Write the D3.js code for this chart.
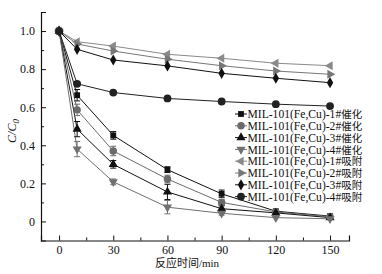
<!DOCTYPE html>
<html>
<head>
<meta charset="utf-8">
<script src="https://cdn.jsdelivr.net/npm/d3@7"></script>
<style>
  body { margin: 0; background: #fff; }
  text { font-family: "Liberation Serif", "Noto Sans CJK SC", serif; }
</style>
</head>
<body>
<div id="chart"></div>
<script>
// times (min)
var times = [0, 10, 30, 60, 90, 120, 150];
var xTicks = [0, 30, 60, 90, 120, 150];
var yTicks = [0, 0.2, 0.4, 0.6, 0.8, 1.0];

var names = [
  "MIL-101(Fe,Cu)-1#催化", "MIL-101(Fe,Cu)-2#催化", "MIL-101(Fe,Cu)-3#催化", "MIL-101(Fe,Cu)-4#催化",
  "MIL-101(Fe,Cu)-1#吸附", "MIL-101(Fe,Cu)-2#吸附", "MIL-101(Fe,Cu)-3#吸附", "MIL-101(Fe,Cu)-4#吸附"
];

var cat1 = [1.0, 0.663, 0.452, 0.272, 0.145, 0.054, 0.028];
var cat2 = [1.0, 0.586, 0.370, 0.223, 0.100, 0.050, 0.025];
var cat3 = [1.0, 0.485, 0.300, 0.155, 0.067, 0.045, 0.020];
var cat4 = [1.0, 0.380, 0.208, 0.075, 0.043, 0.020, 0.014];
var ads1 = [1.0, 0.944, 0.921, 0.878, 0.857, 0.831, 0.818];
var ads2 = [1.0, 0.932, 0.895, 0.852, 0.818, 0.790, 0.773];
var ads3 = [1.0, 0.904, 0.848, 0.817, 0.778, 0.752, 0.729];
var ads4 = [1.0, 0.723, 0.677, 0.646, 0.630, 0.616, 0.606];

var err1 = [0, 0.03, 0.02, 0.015, 0.02, 0, 0];
var err2 = [0, 0.03, 0.025, 0.02, 0.015, 0, 0];
var err3 = [0, 0.04, 0.02, 0.04, 0.015, 0, 0];
var err4 = [0, 0.04, 0.015, 0.035, 0.01, 0, 0];
var noErr = [0, 0, 0, 0, 0, 0, 0];

var series = [
  {name: names[0], values: cat1, err: err1, sym: d3.symbolSquare, color: "#111", size: 34, rot: 0},
  {name: names[1], values: cat2, err: err2, sym: d3.symbolCircle, color: "#6b6b6b", size: 44, rot: 0},
  {name: names[2], values: cat3, err: err3, sym: d3.symbolTriangle, color: "#111", size: 36, rot: 0},
  {name: names[3], values: cat4, err: err4, sym: d3.symbolTriangle, color: "#707070", size: 36, rot: 180},
  {name: names[4], values: ads1, err: noErr, sym: d3.symbolTriangle, color: "#8a8a8a", size: 36, rot: -90},
  {name: names[5], values: ads2, err: noErr, sym: d3.symbolTriangle, color: "#777", size: 36, rot: 90},
  {name: names[6], values: ads3, err: noErr, sym: d3.symbolDiamond, color: "#111", size: 36, rot: 0},
  {name: names[7], values: ads4, err: noErr, sym: d3.symbolCircle, color: "#222", size: 48, rot: 0}
];

var W = 382, H = 274;
var svg = d3.select("#chart").append("svg").attr("width", W).attr("height", H);

var x = d3.scaleLinear().domain([-10, 160.5]).range([41, 349]);
var y = d3.scaleLinear().domain([-0.1, 1.1]).range([240.5, 12]);

// axes, ticks inward
var xAxis = svg.append("g").attr("transform", "translate(0," + y(-0.1) + ")")
  .call(d3.axisBottom(x).tickValues(xTicks).tickSize(-5).tickPadding(4.5).tickFormat(d3.format("d")));
var xMinor = svg.append("g").attr("transform", "translate(0," + y(-0.1) + ")")
  .call(d3.axisBottom(x).tickValues([15, 45, 75, 105, 135]).tickSize(-3).tickFormat(""));
var yAxis = svg.append("g").attr("transform", "translate(" + x(-10) + ",0)")
  .call(d3.axisLeft(y).tickValues(yTicks).tickSize(-5).tickPadding(6)
    .tickFormat(function(d) { return d === 0 ? "0" : d3.format(".1f")(d); }));
var yMinor = svg.append("g").attr("transform", "translate(" + x(-10) + ",0)")
  .call(d3.axisLeft(y).tickValues([0.1, 0.3, 0.5, 0.7, 0.9]).tickSize(-3).tickFormat(""));

[xAxis, xMinor, yAxis, yMinor].forEach(function(g) {
  g.select(".domain").attr("stroke", "#111").attr("stroke-width", 1.2);
  g.selectAll(".tick line").attr("stroke", "#111").attr("stroke-width", 1);
  g.selectAll("text").attr("font-size", 12).attr("fill", "#111")
    .style("font-family", "'Liberation Serif', serif");
});
xMinor.select(".domain").remove();
yMinor.select(".domain").remove();

// axis titles
svg.append("text").attr("x", 187).attr("y", 267).attr("text-anchor", "middle")
  .attr("font-size", 11).attr("fill", "#111").text("反应时间/min");

var yl = svg.append("text").attr("transform", "translate(16,131) rotate(-90)")
  .attr("text-anchor", "middle").attr("font-size", 12).attr("fill", "#111")
  .style("font-style", "italic");
yl.append("tspan").text("C/C");
yl.append("tspan").attr("font-size", 9).attr("dy", 3).text("0");

var line = d3.line().x(function(d, i) { return x(times[i]); }).y(function(d) { return y(d); });

// lines
series.forEach(function(s) {
  svg.append("path").datum(s.values).attr("d", line)
    .attr("fill", "none").attr("stroke", s.color).attr("stroke-width", 1);
});

// error bars
series.forEach(function(s) {
  s.values.forEach(function(v, i) {
    var e = s.err[i];
    if (!e) return;
    var cx = x(times[i]);
    var g = svg.append("g").attr("stroke", s.color).attr("stroke-width", 1);
    g.append("line").attr("x1", cx).attr("x2", cx).attr("y1", y(v - e)).attr("y2", y(v + e));
    g.append("line").attr("x1", cx - 3).attr("x2", cx + 3).attr("y1", y(v - e)).attr("y2", y(v - e));
    g.append("line").attr("x1", cx - 3).attr("x2", cx + 3).attr("y1", y(v + e)).attr("y2", y(v + e));
  });
});

// markers
series.forEach(function(s) {
  svg.selectAll(null).data(s.values).enter().append("path")
    .attr("d", d3.symbol().type(s.sym).size(s.size))
    .attr("transform", function(d, i) {
      return "translate(" + x(times[i]) + "," + y(d) + ") rotate(" + s.rot + ")";
    })
    .attr("fill", s.color);
});

// legend
var lg = svg.append("g").attr("transform", "translate(235,114)");
series.forEach(function(s, i) {
  var g = lg.append("g").attr("transform", "translate(0," + (i * 11.8) + ")");
  g.append("line").attr("x1", 0).attr("x2", 12).attr("stroke", s.color).attr("stroke-width", 1);
  g.append("path").attr("d", d3.symbol().type(s.sym).size(s.size))
    .attr("transform", "translate(6,0) rotate(" + s.rot + ")").attr("fill", s.color);
  var t = g.append("text").attr("x", 12.5).attr("y", 4.2).attr("font-size", 11.6).attr("fill", "#111");
  t.append("tspan").text(s.name.slice(0, -2));
  t.append("tspan").attr("font-size", 10.5).text(s.name.slice(-2));
});
</script>
</body>
</html>
